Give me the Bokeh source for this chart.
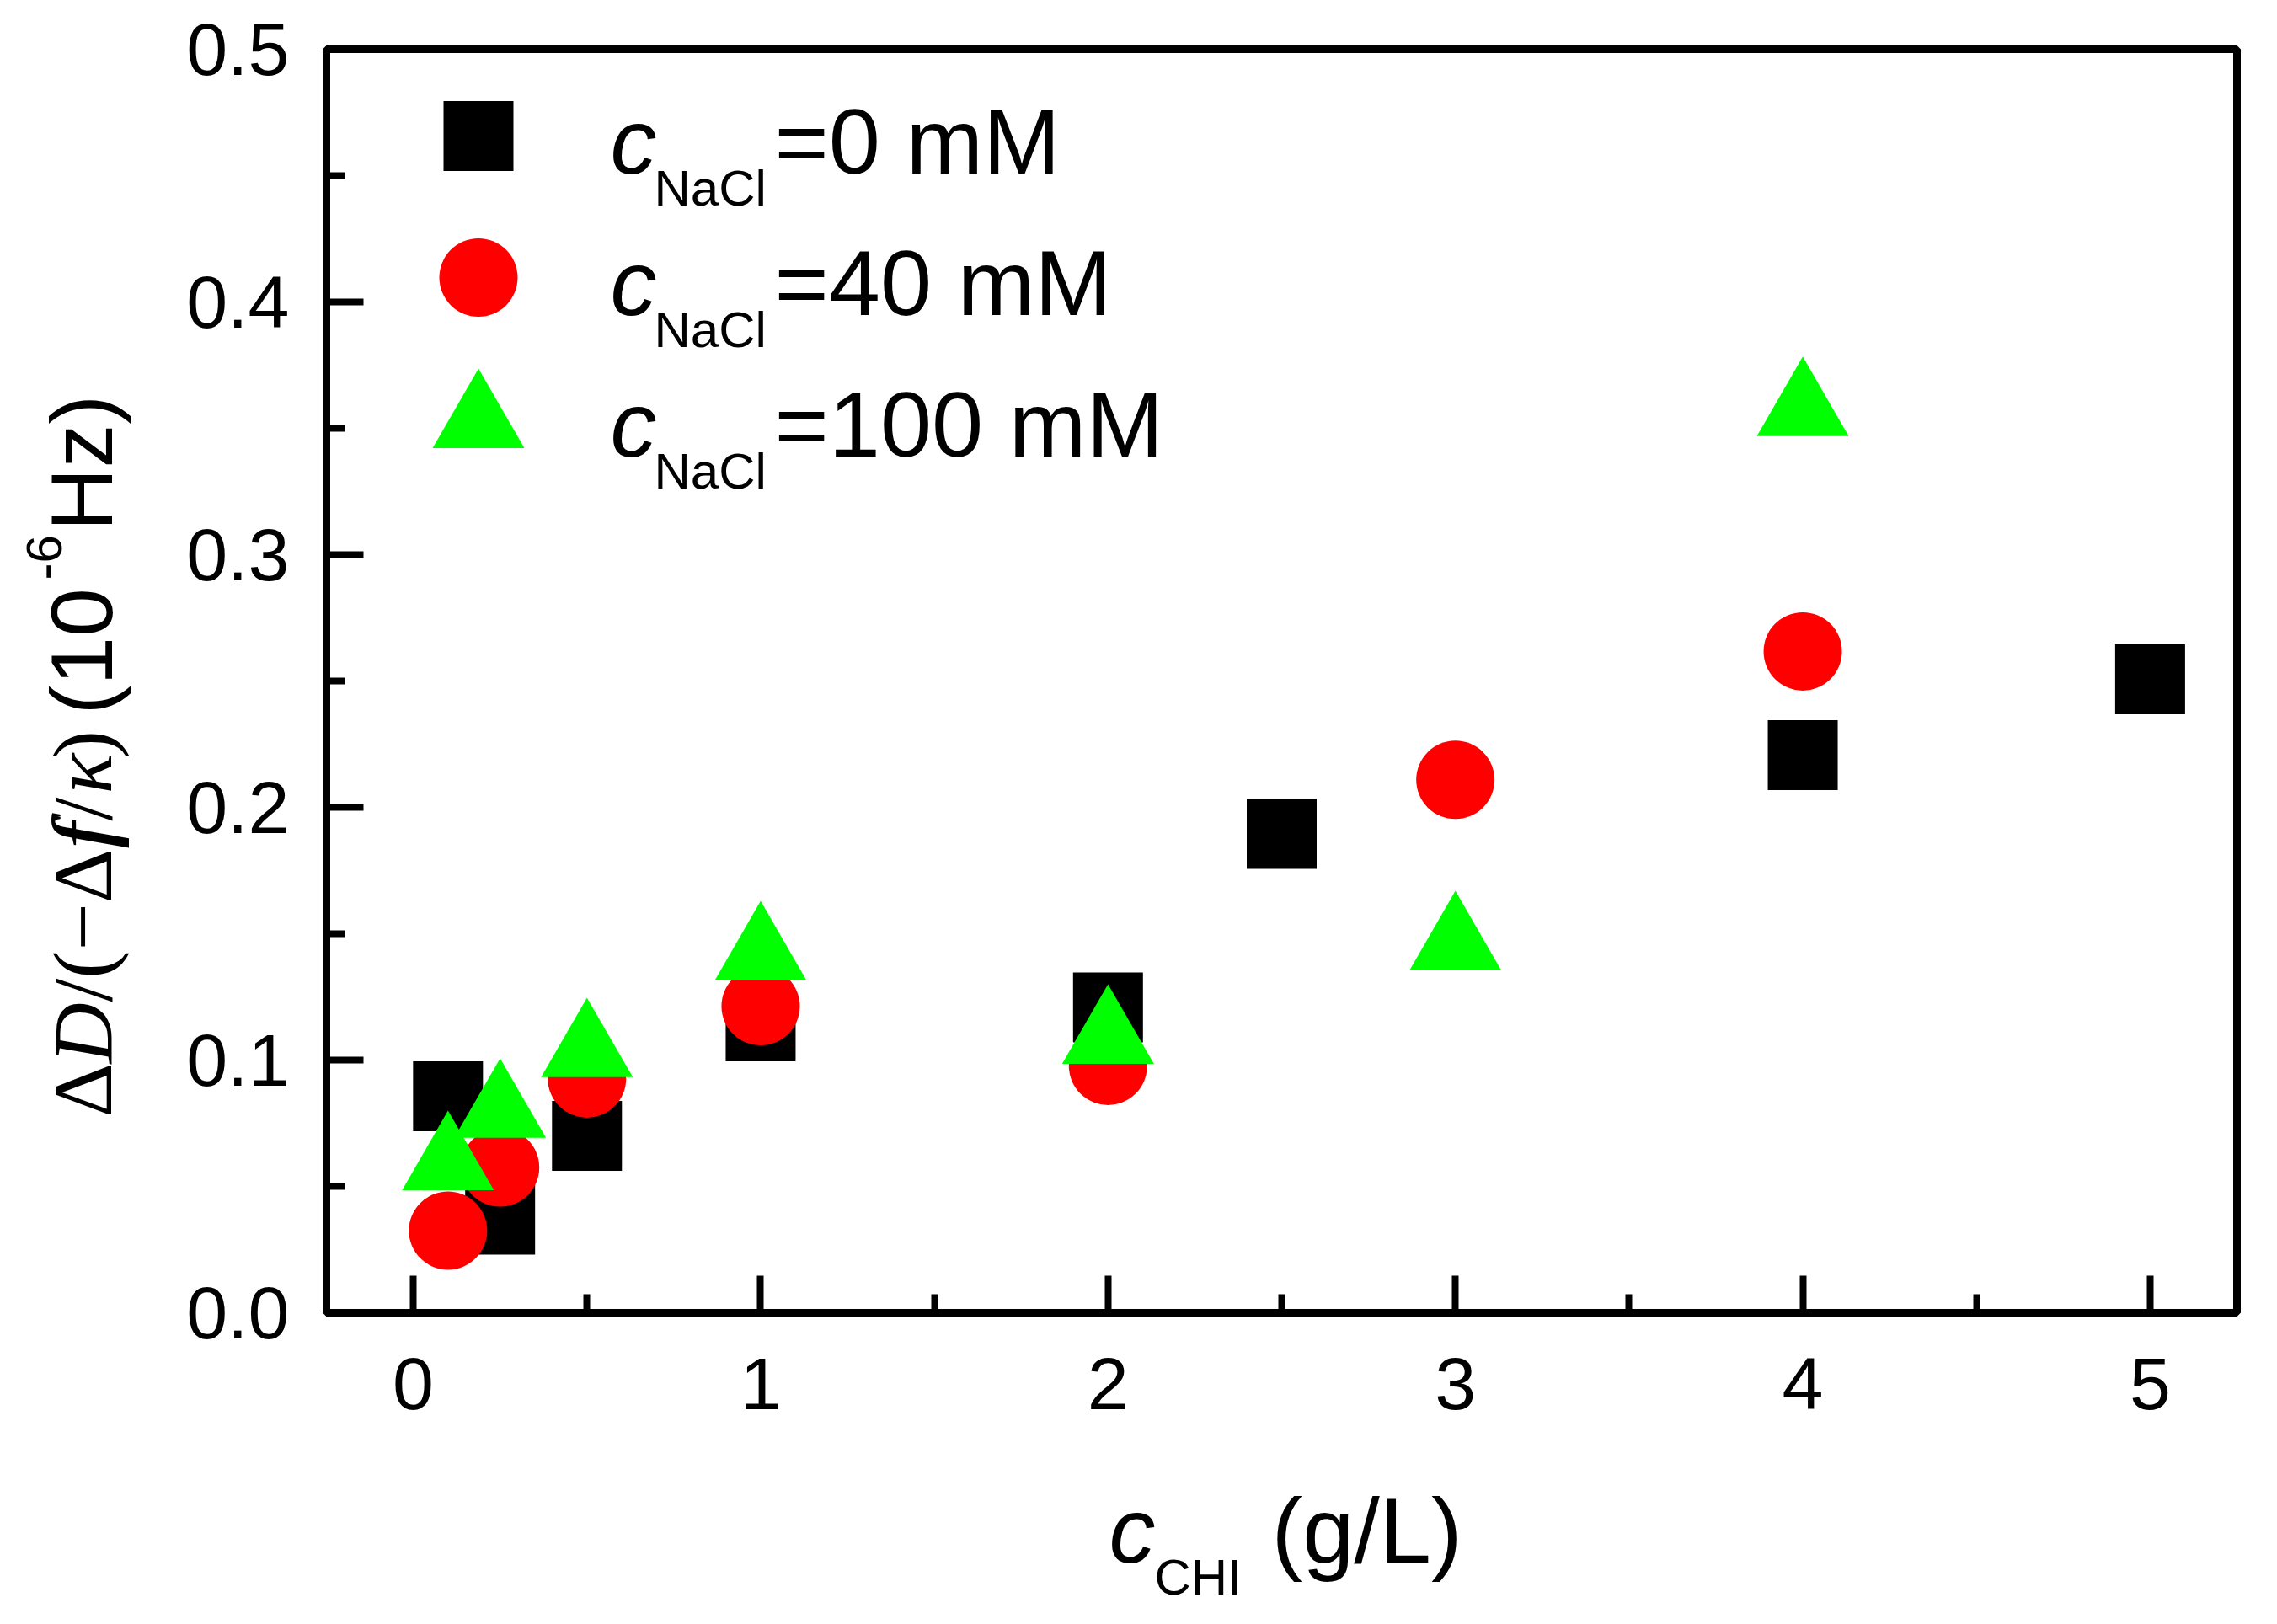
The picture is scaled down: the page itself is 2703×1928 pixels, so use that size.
import math
from bokeh.plotting import figure
from bokeh.layouts import row, column
from bokeh.models import Label, FixedTicker, PrintfTickFormatter, Range1d
from bokeh.embed import file_html
from bokeh.resources import INLINE

# ---------------- data ----------------
x_ticks = [0, 1, 2, 3, 4, 5]
x_minor = [0.5, 1.5, 2.5, 3.5, 4.5]
y_ticks = [0.0, 0.1, 0.2, 0.3, 0.4, 0.5]
y_minor = [0.05, 0.15, 0.25, 0.35, 0.45]

x_0mM = [0.1, 0.25, 0.5, 1, 2, 2.5, 4, 5]
y_0mM = [0.0857, 0.0368, 0.070, 0.1133, 0.1208, 0.1895, 0.2207, 0.2507]

x_40mM = [0.1, 0.25, 0.5, 1, 2, 3, 4]
y_40mM = [0.0325, 0.0575, 0.0927, 0.1213, 0.0977, 0.2109, 0.2617]

x_100mM = [0.1, 0.25, 0.5, 1, 2, 3, 4]
y_100mM = [0.059, 0.0797, 0.1037, 0.142, 0.109, 0.146, 0.3574]

legend_values = ["=0 mM", "=40 mM", "=100 mM"]

# ---------------- layout (page pixels) ----------------
XR = (-0.25, 5.25)
YR = (0.0, 0.5)
M = 8                      # page margin
YW = 192                   # width of the y-label strip
MW, MH = 2495, 1740        # main figure
TW = YW + MW               # total width
XH = 172                   # height of the x-label strip
BL, BT = 195, 58
FW, FH = 2268, 1500
BR = MW - BL - FW
BB = MH - BT - FH
FL = M + YW + BL           # frame left in page px
FT = M + BT                # frame top in page px
SANS = "Liberation Sans"
SERIF = "Liberation Serif"
SHIFT = 0.29               # baseline correction (fraction of font size)


def blank_fig(w, h, xr, yr):
    f = figure(width=w, height=h, x_range=Range1d(*xr), y_range=Range1d(*yr),
               output_backend="svg", toolbar_location=None,
               x_axis_type=None, y_axis_type=None, min_border=0,
               min_border_left=0, min_border_right=0, min_border_top=0, min_border_bottom=0)
    f.outline_line_color = None
    f.background_fill_color = "white"
    f.border_fill_color = "white"
    return f


p = figure(width=MW, height=MH, x_range=Range1d(*XR), y_range=Range1d(*YR),
           output_backend="svg", toolbar_location=None,
           min_border_left=BL, min_border_right=BR, min_border_top=BT, min_border_bottom=BB)
p.background_fill_color = "white"
p.border_fill_color = "white"
p.xgrid.visible = False
p.ygrid.visible = False
p.outline_line_color = "black"
p.outline_line_width = 9

for ax in (p.xaxis[0], p.yaxis[0]):
    ax.axis_line_width = 9
    ax.axis_line_color = "black"
    ax.major_tick_line_width = 8
    ax.minor_tick_line_width = 8
    ax.major_tick_line_color = "black"
    ax.minor_tick_line_color = "black"
    ax.major_tick_in = 44
    ax.major_tick_out = 0
    ax.minor_tick_in = 22
    ax.minor_tick_out = 0
    ax.major_label_text_font = SANS
    ax.major_label_text_font_size = "88px"
    ax.major_label_text_color = "black"

p.xaxis[0].ticker = FixedTicker(ticks=x_ticks, minor_ticks=x_minor)
p.yaxis[0].ticker = FixedTicker(ticks=y_ticks, minor_ticks=y_minor)
p.xaxis[0].formatter = PrintfTickFormatter(format="%d")
p.yaxis[0].formatter = PrintfTickFormatter(format="%.1f")
p.xaxis[0].major_label_standoff = 54
p.yaxis[0].major_label_standoff = 44


def dx(px):
    return XR[0] + (px - FL) / FW * (XR[1] - XR[0])


def dy(py):
    return YR[1] - (py - FT) / FH * (YR[1] - YR[0])


SQ, CI, TR = 83, 93, 109

# ---------------- series ----------------
p.scatter(x_0mM, y_0mM, marker="square", size=SQ, fill_color="#000000", line_color=None)
p.scatter(x_40mM, y_40mM, marker="circle", size=CI, fill_color="#ff0000", line_color=None)
p.scatter(x_100mM, y_100mM, marker="triangle", size=TR, fill_color="#00ff00", line_color=None)

# ---------------- legend ----------------
leg_x = dx(575.5)
p.scatter([leg_x], [dy(169)], marker="square", size=SQ, fill_color="#000000", line_color=None)
p.scatter([leg_x], [dy(337)], marker="circle", size=CI, fill_color="#ff0000", line_color=None)
p.scatter([leg_x], [dy(508)], marker="triangle", size=TR, fill_color="#00ff00", line_color=None)


def mk(fig, text, x, y, size, style="normal", font=SANS, angle=0.0):
    fig.add_layout(Label(x=x, y=y, text=text, text_font=font,
                         text_font_size=f"{size}px", text_font_style=style,
                         text_baseline="alphabetic", text_align="left",
                         angle=angle, text_color="black"))


def leg(text, px, base, size, style="normal"):
    mk(p, text, dx(px), dy(base - SHIFT * size), size, style)


for i, txt in enumerate(legend_values):
    base = 207 + 168 * i
    leg("c", 732, base, 110, "italic")
    leg("NaCl", 784, base + 41, 60)
    leg(txt, 927, base, 110)

# ---------------- x axis label strip (full width) ----------------
fx = blank_fig(TW, XH, (M, M + TW), (M + MH + XH, M + MH))


def xl(text, px, base, size, style="normal"):
    mk(fx, text, px, base - SHIFT * size, size, style)


xl("c", 1324, 1856, 110, "italic")
xl("CHI", 1378, 1897, 60)
xl("(g/L)", 1517, 1856, 110)

# ---------------- y axis label strip (rotated) ----------------
# in a row, this strip's frame is aligned with the main frame (page y FT .. FT+FH)
fy = blank_fig(YW, MH, (M, M + YW), (FT + FH, FT))
A = math.pi / 2


def yl(text, base_x, start_y, size, style="normal", font=SANS):
    mk(fy, text, base_x - SHIFT * size, start_y, size, style, font, A)


bx = 134.5
yl("\u0394", bx, 1334, 100, "normal", SERIF)
yl("D", bx, 1270, 100, "italic", SERIF)
yl("/(\u2212\u0394", bx, 1197, 100, "normal", SERIF)
# bold-looking italic f (drawn twice, slightly offset)
yl("f", bx, 1015, 100, "italic", SERIF)
yl("f", bx, 1012, 100, "italic", SERIF)
yl("/", bx, 982, 100, "normal", SERIF)
yl("\u03ba", bx, 950, 100, "italic", SERIF)
yl(")", bx, 908, 100, "normal", SERIF)
yl("(10", bx, 856, 104)
yl("-6", 77, 696, 60)
yl("Hz)", bx, 638, 104)

layout = column(row(fy, p), fx)
open("out.html", "w").write(file_html(layout, INLINE, title="plot"))
